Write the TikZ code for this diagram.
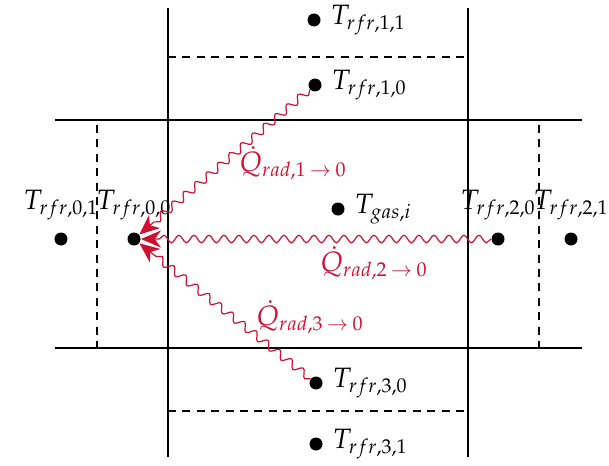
\documentclass[tikz,border=0pt]{standalone}
\usepackage{mathpazo}
\usetikzlibrary{decorations.pathmorphing,arrows.meta}
\DeclareMathSizes{14}{14}{10}{8}
\definecolor{radred}{RGB}{208,16,48}
\newcommand{\qarrow}{\mskip4mu\rightarrow\mskip4mu}
\tikzset{
  dot/.style={circle,fill=black,minimum size=6.5pt,inner sep=0pt},
  wall/.style={line width=0.65pt},
  sub/.style={line width=0.6pt,dash pattern=on 4pt off 3.2pt},
  rad/.style={radred,line width=0.6pt,decorate,
    decoration={snake,segment length=7.5pt,amplitude=1.9pt,post length=9pt},
    -{Stealth[length=10pt,width=8.5pt,inset=3pt]}},
  qlab/.style={text=radred},
}
\begin{document}
\fontsize{14}{17}\selectfont
\begin{tikzpicture}[x=0.5pt,y=-0.5pt]
\useasboundingbox (0,0) rectangle (609,465);
% walls
\draw[wall] (55,120) -- (582,120);
\draw[wall] (55,348) -- (582,348);
\draw[wall] (168,8) -- (168,457);
\draw[wall] (468,8) -- (468,457);
% sub-cell dashed lines
\draw[sub] (168,57) -- (468,57);
\draw[sub] (168,411) -- (468,411);
\draw[sub] (97,125) -- (97,348);
\draw[sub] (539,125) -- (539,348);
% nodes
\node[dot,label={[label distance=0pt]right:$T_{rfr,1,1}$}] (t11) at (314,20) {};
\node[dot,label={[label distance=0pt]right:$T_{rfr,1,0}$}] (t10) at (315,85) {};
\node[dot,label={[label distance=0pt]right:$T_{gas,i}$}] (tg) at (338,209) {};
\node[dot,label={[label distance=1pt]above:$T_{rfr,0,1}$}] (t01) at (61,239) {};
\node[dot,label={[label distance=1pt]above:$T_{rfr,0,0}$}] (t00) at (134,239) {};
\node[dot,label={[label distance=1pt]above:$T_{rfr,2,0}$}] (t20) at (498,239) {};
\node[dot,label={[label distance=1pt]above:$T_{rfr,2,1}$}] (t21) at (571,239) {};
\node[dot,label={[label distance=0pt]right:$T_{rfr,3,0}$}] (t30) at (316,383) {};
\node[dot,label={[label distance=0pt]right:$T_{rfr,3,1}$}] (t31) at (316,444) {};
% radiation
\draw[rad] (t10) -- (t00);
\draw[rad] (t20) -- (t00);
\draw[rad] (t30) -- (t00);
\node[qlab] (q1) at (293,163) {$\dot{Q}_{rad,1\qarrow 0}$};
\node[qlab] (q2) at (374,263) {$\dot{Q}_{rad,2\qarrow 0}$};
\node[qlab] (q3) at (310,317) {$\dot{Q}_{rad,3\qarrow 0}$};
\end{tikzpicture}
\end{document}
